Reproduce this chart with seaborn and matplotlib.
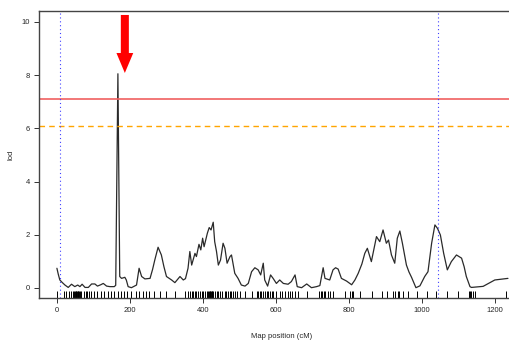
import matplotlib
matplotlib.use("Agg")
import matplotlib.pyplot as plt
from matplotlib.patches import FancyArrow
import pandas as pd
import seaborn as sns

# genome scan: position (cM) and LOD score
positions = [0, 4, 8, 15, 22, 31, 40, 49, 57, 63, 69, 77, 86, 95, 104, 111, 120, 127,
             136, 145, 157, 161, 167, 172, 177, 186, 190, 195, 204, 218, 225, 232, 241,
             255, 262, 268, 277, 286, 293, 300, 314, 323, 337, 346, 352, 359, 364, 369,
             378, 382, 389, 394, 399, 403, 412, 417, 422, 428, 432, 437, 442, 448, 455,
             460, 466, 474, 478, 483, 487, 496, 505, 515, 524, 533, 542, 551, 558, 565,
             569, 577, 585, 592, 601, 610, 620, 633, 642, 652, 658, 670, 684, 697, 711,
             720, 729, 734, 747, 756, 763, 770, 779, 793, 807, 816, 825, 835, 843, 850,
             861, 875, 884, 893, 902, 908, 916, 925, 932, 939, 946, 957, 964, 971, 983,
             994, 1007, 1016, 1026, 1035, 1042, 1050, 1059, 1069, 1080, 1094, 1108, 1115,
             1121, 1131, 1135, 1167, 1199, 1235]
lod = [0.74, 0.5, 0.3, 0.2, 0.11, 0.02, 0.14, 0.05, 0.11, 0.05, 0.14, 0.02, 0.02, 0.15,
       0.15, 0.07, 0.12, 0.17, 0.07, 0.05, 0.05, 0.1, 8.05, 0.43, 0.36, 0.4, 0.3, 0.05,
       0.01, 0.11, 0.74, 0.43, 0.34, 0.36, 0.7, 1.05, 1.53, 1.24, 0.8, 0.43, 0.3, 0.2,
       0.43, 0.3, 0.35, 0.74, 1.37, 0.86, 1.3, 1.18, 1.64, 1.43, 1.87, 1.55, 2.06, 2.27,
       2.18, 2.47, 1.74, 1.37, 0.86, 1.05, 1.68, 1.49, 0.93, 1.18, 1.24, 0.86, 0.55, 0.36,
       0.11, 0.07, 0.17, 0.61, 0.76, 0.68, 0.49, 0.93, 0.3, 0.07, 0.49, 0.36, 0.17, 0.3,
       0.17, 0.14, 0.24, 0.49, 0.05, 0.01, 0.15, 0.01, 0.05, 0.09, 0.76, 0.36, 0.3, 0.68,
       0.76, 0.71, 0.36, 0.26, 0.12, 0.3, 0.55, 0.9, 1.3, 1.49, 0.99, 1.93, 1.74, 2.18,
       1.68, 1.8, 1.24, 0.93, 1.87, 2.14, 1.68, 0.86, 0.6, 0.4, 0.01, 0.08, 0.43, 0.61,
       1.68, 2.37, 2.24, 1.99, 1.3, 0.68, 0.99, 1.24, 1.12, 0.8, 0.43, 0.05, 0.02, 0.06,
       0.3, 0.36]

# marker positions (rug)
markers = [0, 20, 26, 33, 38, 45, 47, 49, 51, 53, 55, 57, 59, 61, 63, 67, 74, 79, 83, 88,
           93, 102, 111, 120, 129, 139, 148, 157, 166, 175, 184, 193, 204, 216, 225, 235,
           244, 253, 266, 282, 300, 323, 350, 360, 364, 369, 373, 378, 382, 387, 391, 396,
           400, 405, 410, 414, 416, 418, 420, 422, 424, 426, 428, 432, 437, 442, 446, 451,
           460, 464, 469, 474, 478, 483, 487, 492, 501, 515, 533, 547, 551, 556, 560, 565,
           569, 574, 578, 583, 588, 592, 601, 610, 617, 624, 632, 638, 644, 652, 661, 686,
           718, 723, 727, 732, 735, 741, 747, 756, 788, 802, 807, 811, 829, 864, 889, 905,
           919, 925, 933, 937, 948, 962, 985, 1014, 1039, 1068, 1099, 1129, 1132, 1135,
           1140, 1146, 1231]

threshold_5 = 7.1
threshold_10 = 6.1
chrom_bounds = [8, 1043]
arrow_x, arrow_top, arrow_tip = 186, 10.26, 8.08

sns.set_theme(style="white")
plt.rcParams["font.family"] = ["Liberation Sans", "DejaVu Sans"]

df = pd.DataFrame({"pos": positions, "lod": lod})

fig = plt.figure(figsize=(5.10, 3.43), dpi=100)
ax = fig.add_axes([0.0765, 0.131, 0.951, 0.837])

sns.lineplot(data=df, x="pos", y="lod", ax=ax, color="#2a2a2a", linewidth=0.9,
             sort=False, estimator=None)
sns.rugplot(x=markers, ax=ax, height=0.024, color="black", linewidth=0.7)

ax.axhline(threshold_5, color="#f06060", linewidth=1.2)
ax.axhline(threshold_10, color="#ffa500", linewidth=1.0, linestyle=(0, (4, 3)))
for b in chrom_bounds:
    ax.axvline(b, color="#4040ff", linewidth=0.8, linestyle=(0, (1, 2.5)))

ax.add_patch(FancyArrow(arrow_x, arrow_top, 0, arrow_tip - arrow_top, width=22,
                        head_width=46, head_length=0.75, length_includes_head=True,
                        color="#ff0000", linewidth=0))

ax.set_xlim(-49, 1279)
ax.set_ylim(-0.38, 10.41)
ax.set_xticks(range(0, 1201, 200))
ax.set_yticks(range(0, 11, 2))
ax.tick_params(axis="both", labelsize=5.5, length=3.5, width=0.7, color="#333333",
               pad=3, bottom=True, left=True)
for s in ax.spines.values():
    s.set_color("#444444")
    s.set_linewidth(1.0)

ax.set_xlabel("Map position (cM)", fontsize=5.5)
ax.set_ylabel("lod", fontsize=5.5)
ax.xaxis.set_label_coords(0.5, -0.122)
ax.yaxis.set_label_coords(-0.05, 0.5)

fig.savefig("out.png", dpi=100)
